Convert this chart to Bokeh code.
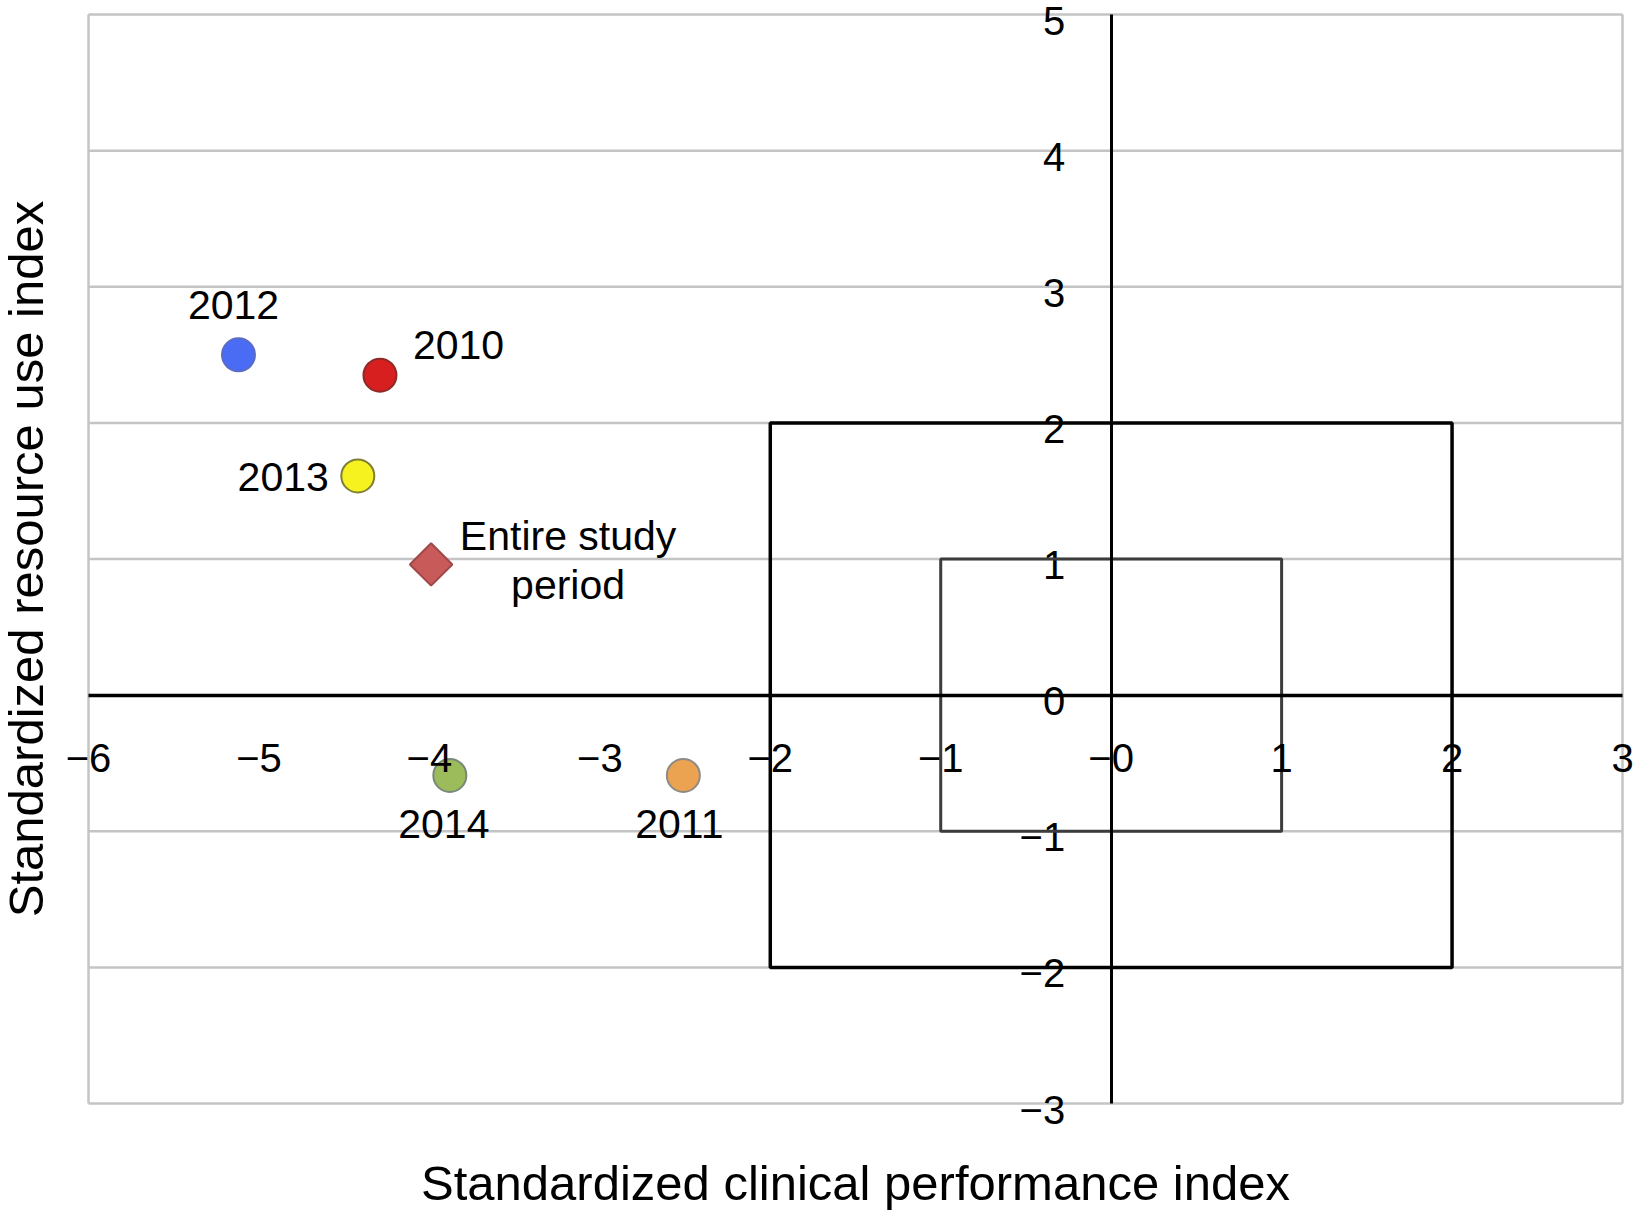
import numpy as np
from bokeh.plotting import figure
from bokeh.models import FixedTicker, Label, Range1d
from bokeh.embed import file_html
from bokeh.resources import INLINE
from bokeh.core.properties import value

# ---------------- data ----------------
x_ticks = [-6, -5, -4, -3, -2, -1, 0, 1, 2, 3]
x_tick_labels = ["−6", "−5", "−4", "−3", "−2", "−1", "−0", "1", "2", "3"]
y_ticks = [-3, -2, -1, 0, 1, 2, 3, 4, 5]
y_tick_labels = ["−3", "−2", "−1", "0", "1", "2", "3", "4", "5"]

point_labels = ["2010", "2011", "2012", "2013", "2014", "Entire study\nperiod"]
clinical_index = [-4.29, -2.51, -5.12, -4.42, -3.88, -3.99]
resource_index = [2.35, -0.59, 2.50, 1.61, -0.59, 0.96]

box_half_widths = [2, 1]

x_title = "Standardized clinical performance index"
y_title = "Standardized resource use index"

# ---------------- layout (pixels) ----------------
W, H = 1635, 1210
PX_LEFT, PX_RIGHT = 88, 1622     # where x_ticks[0] / x_ticks[-1] sit
PX_TOP, PX_BOTTOM = 14, 1103     # where y_ticks[-1] / y_ticks[0] sit
xmin, xmax = x_ticks[0], x_ticks[-1]
ymin, ymax = y_ticks[0], y_ticks[-1]
xs = (PX_RIGHT - PX_LEFT) / (xmax - xmin)
ys = (PX_BOTTOM - PX_TOP) / (ymax - ymin)
x_range = Range1d(xmin - PX_LEFT / xs, xmax + (W - PX_RIGHT) / xs)
y_range = Range1d(ymin - (H - PX_BOTTOM) / ys, ymax + PX_TOP / ys)

# ---------------- styles ----------------
FONT = "Liberation Sans"
GRID = "#c4c4c4"
marker_style = {
    "2010": dict(marker="circle", size=33, angle=0, fill="#d71f1f", line="#8e2a2a"),
    "2011": dict(marker="circle", size=33, angle=0, fill="#eba251", line="#8f8a86"),
    "2012": dict(marker="circle", size=33, angle=0, fill="#4a6bf4", line="#5a6cc4"),
    "2013": dict(marker="circle", size=33, angle=0, fill="#f6f21f", line="#7e7f34"),
    "2014": dict(marker="circle", size=33, angle=0, fill="#9cbb5a", line="#78887a"),
    "Entire study\nperiod": dict(marker="square", size=30, angle=np.pi / 4, fill="#c95a5a", line="#a04848"),
}
label_style = {
    "2010": dict(dx=33, dy=-30, align="left"),
    "2011": dict(dx=-4, dy=49, align="center"),
    "2012": dict(dx=-5, dy=-50, align="center"),
    "2013": dict(dx=-29, dy=1, align="right"),
    "2014": dict(dx=-6, dy=49, align="center"),
    "Entire study\nperiod": dict(dx=137, dy=-4, align="center"),
}
box_style = [dict(color="black", width=3.5), dict(color="#3c3c3c", width=3)]

# ---------------- figure ----------------
p = figure(width=W, height=H, x_range=x_range, y_range=y_range,
           output_backend="svg", toolbar_location=None,
           min_border_left=0, min_border_right=0, min_border_top=0, min_border_bottom=0)
p.background_fill_color = "white"
p.border_fill_color = "white"
p.outline_line_color = None
p.xgrid.visible = False
p.ygrid.visible = False

# gray grid lines and outer border (limited to the data area)
p.segment(x0=[xmin] * len(y_ticks), x1=[xmax] * len(y_ticks), y0=y_ticks, y1=y_ticks,
          line_color=GRID, line_width=2.5)
p.segment(x0=[xmin, xmax], x1=[xmin, xmax], y0=[ymin, ymin], y1=[ymax, ymax],
          line_color=GRID, line_width=2.5)

# axes crossing at the origin
p.xaxis.ticker = FixedTicker(ticks=x_ticks)
p.xaxis.major_label_overrides = {t: l for t, l in zip(x_ticks, x_tick_labels)}
p.yaxis.ticker = FixedTicker(ticks=[])
p.xaxis.fixed_location = 0
p.yaxis.fixed_location = 0
p.xaxis.bounds = (xmin, xmax)
p.yaxis.bounds = (ymin, ymax)
for ax in (p.xaxis, p.yaxis):
    ax.axis_line_color = "black"
    ax.major_tick_in = 0
    ax.major_tick_out = 0
    ax.minor_tick_in = 0
    ax.minor_tick_out = 0
    ax.major_label_text_font = FONT
    ax.major_label_text_font_size = "40px"
    ax.major_label_text_color = "black"
p.xaxis.major_label_standoff = 49
p.xaxis.axis_line_width = 3.5
p.yaxis.axis_line_width = 3

# y tick labels, sitting just left of the vertical axis and slightly below each tick
p.text(x=[0] * len(y_ticks), y=y_ticks, text=y_tick_labels, x_offset=-46, y_offset=6,
       text_align="right", text_baseline="middle", text_font=value(FONT),
       text_font_size="40px", text_color="black")

# boxes
for b, st in zip(box_half_widths, box_style):
    p.quad(left=[-b], right=[b], bottom=[-b], top=[b], fill_color=None,
           line_color=st["color"], line_width=st["width"])

# points and their labels
for lbl, xv, yv in zip(point_labels, clinical_index, resource_index):
    ms = marker_style[lbl]
    p.scatter(x=[xv], y=[yv], marker=ms["marker"], size=ms["size"], angle=ms["angle"],
              fill_color=ms["fill"], line_color=ms["line"], line_width=2)
    ls = label_style[lbl]
    p.text(x=[xv], y=[yv], text=[lbl], x_offset=ls["dx"], y_offset=ls["dy"],
           text_align=ls["align"], text_baseline="middle",
           text_font=value(FONT), text_font_size="41px", text_color="black",
           text_line_height=1.06)

# axis titles
p.add_layout(Label(x=(xmin + xmax) / 2, y=H - 1182, x_units="data", y_units="screen",
                   text=x_title, text_align="center", text_baseline="middle",
                   text_font=FONT, text_font_size="49px", text_color="black"))
p.add_layout(Label(x=25, y=(ymin + ymax) / 2, x_units="screen", y_units="data",
                   angle=np.pi / 2, text=y_title, text_align="center", text_baseline="middle",
                   text_font=FONT, text_font_size="49px", text_color="black"))

open("out.html", "w").write(file_html(p, INLINE))
